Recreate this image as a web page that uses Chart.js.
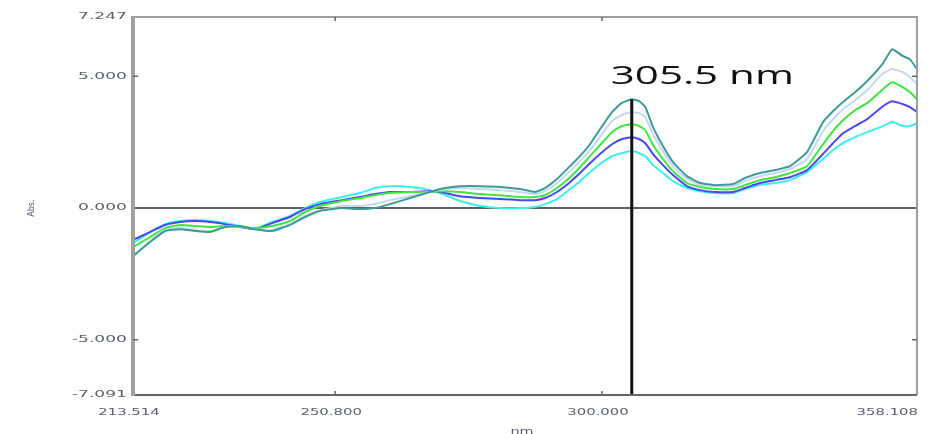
<!DOCTYPE html>
<html>
<head>
<meta charset="utf-8">
<script src="https://cdn.jsdelivr.net/npm/chart.js@4"></script>
<style>
  html, body { margin: 0; padding: 0; background: #fff; }
  #wrap { width: 949px; height: 434px; }
</style>
</head>
<body>
<div id="wrap"><canvas id="chart" width="949" height="434"></canvas></div>
<script>
// UV absorbance overlay, 5 spectra, peak marked at 305.5 nm
var WAVELENGTH = [
  213.514, 216.65, 219.42, 222.18, 224.95, 227.71, 230.48, 233.25, 236.01, 239.15,
  242.47, 245.24, 248.00, 252.06, 255.38, 258.15, 260.91, 264.60, 268.29, 271.06,
  273.82, 277.51, 281.20, 284.89, 287.66, 289.50, 291.71, 294.11, 295.95, 297.80,
  299.64, 301.86, 303.60, 305.50, 306.90, 308.00, 309.42, 311.26, 313.11, 315.69,
  318.09, 320.85, 324.17, 326.38, 329.15, 331.92, 334.68, 337.82, 340.77, 342.61,
  344.46, 346.67, 348.89, 351.84, 353.50, 355.53, 356.82, 358.108
];
var ABS_TEAL = [
  -1.82, -1.29, -0.87, -0.80, -0.87, -0.91, -0.72, -0.68, -0.80, -0.87,
  -0.64, -0.34, -0.11, 0.00, -0.04, 0.00, 0.15, 0.38, 0.61, 0.76,
  0.83, 0.83, 0.80, 0.72, 0.61, 0.76, 1.10, 1.59, 1.97, 2.42,
  2.99, 3.64, 3.98, 4.13, 4.05, 3.83, 3.07, 2.35, 1.74, 1.21,
  0.95, 0.87, 0.91, 1.14, 1.33, 1.44, 1.59, 2.12, 3.26, 3.67,
  4.02, 4.39, 4.81, 5.49, 6.02, 5.76, 5.64, 5.27
];
var ABS_LIGHT = [
  -1.86, -1.25, -0.83, -0.76, -0.83, -0.87, -0.72, -0.68, -0.80, -0.83,
  -0.61, -0.30, -0.08, 0.08, 0.08, 0.15, 0.30, 0.45, 0.61, 0.72,
  0.76, 0.72, 0.68, 0.61, 0.53, 0.64, 0.95, 1.40, 1.78, 2.20,
  2.69, 3.30, 3.52, 3.64, 3.60, 3.45, 2.80, 2.16, 1.59, 1.10,
  0.87, 0.83, 0.83, 1.02, 1.21, 1.33, 1.48, 1.86, 2.92, 3.37,
  3.75, 4.09, 4.47, 5.11, 5.27, 5.15, 4.96, 4.70
];
var ABS_GREEN = [
  -1.48, -1.10, -0.76, -0.64, -0.68, -0.72, -0.68, -0.72, -0.76, -0.68,
  -0.49, -0.15, 0.08, 0.27, 0.38, 0.49, 0.57, 0.61, 0.61, 0.64,
  0.61, 0.53, 0.49, 0.42, 0.42, 0.49, 0.76, 1.17, 1.55, 1.97,
  2.39, 2.88, 3.11, 3.18, 3.11, 2.95, 2.39, 1.86, 1.40, 0.95,
  0.80, 0.72, 0.72, 0.87, 1.06, 1.17, 1.33, 1.59, 2.42, 2.92,
  3.33, 3.71, 3.98, 4.51, 4.77, 4.58, 4.39, 4.13
];
var ABS_BLUE = [
  -1.21, -0.91, -0.64, -0.53, -0.49, -0.53, -0.61, -0.72, -0.80, -0.57,
  -0.34, -0.04, 0.15, 0.30, 0.42, 0.53, 0.61, 0.61, 0.64, 0.57,
  0.45, 0.38, 0.34, 0.30, 0.30, 0.38, 0.61, 0.98, 1.33, 1.70,
  2.05, 2.42, 2.61, 2.69, 2.61, 2.46, 2.05, 1.63, 1.25, 0.83,
  0.68, 0.61, 0.61, 0.76, 0.95, 1.06, 1.17, 1.44, 2.05, 2.46,
  2.84, 3.11, 3.37, 3.86, 4.05, 3.94, 3.83, 3.64
];
var ABS_CYAN = [
  -1.33, -0.91, -0.61, -0.49, -0.45, -0.49, -0.57, -0.68, -0.80, -0.53,
  -0.30, 0.00, 0.23, 0.42, 0.57, 0.76, 0.83, 0.80, 0.68, 0.49,
  0.27, 0.08, 0.00, 0.00, 0.04, 0.15, 0.34, 0.72, 1.02, 1.36,
  1.67, 1.97, 2.08, 2.16, 2.08, 1.97, 1.63, 1.33, 1.02, 0.76,
  0.64, 0.57, 0.57, 0.72, 0.87, 0.95, 1.06, 1.36, 1.86, 2.20,
  2.46, 2.69, 2.88, 3.11, 3.26, 3.11, 3.11, 3.22
];

var X_TICKS = [213.514, 250.8, 300.0, 358.108];
var Y_TICKS = [7.247, 5.0, 0.0, -5.0, -7.091];
var PEAK_NM = 305.5;
var PEAK_TOP = 4.13;
var PEAK_LABEL = "305.5 nm";

var TEAL = "#3d9a96";
var LIGHT = "#c6d9f0";
var GREEN = "#3ee63e";
var BLUE = "#4848ec";
var CYAN = "#3deeee";
var TICK_TEXT = "#5a5f6a";

function points(ys) {
  return ys.map(function (y, i) { return { x: WAVELENGTH[i], y: y }; });
}

// text is horizontally stretched in the original picture
function wideText(ctx, text, x, y, sx, align) {
  ctx.save();
  ctx.translate(x, y);
  ctx.scale(sx, 1);
  ctx.textAlign = align;
  ctx.fillText(text, 0, 0);
  ctx.restore();
}

var spectrumFrame = {
  id: "spectrumFrame",
  beforeDatasetsDraw: function (chart) {
    var ctx = chart.ctx, a = chart.chartArea;
    var y0 = chart.scales.y.getPixelForValue(0);
    ctx.save();
    ctx.strokeStyle = "#2a2a2a";
    ctx.lineWidth = 1.5;
    ctx.beginPath();
    ctx.moveTo(a.left, y0);
    ctx.lineTo(a.right, y0);
    ctx.stroke();
    ctx.restore();
  },
  afterDatasetsDraw: function (chart) {
    var ctx = chart.ctx, a = chart.chartArea;
    var xs = chart.scales.x, ys = chart.scales.y;
    ctx.save();

    // peak marker
    var px = xs.getPixelForValue(PEAK_NM);
    ctx.strokeStyle = "#111";
    ctx.lineWidth = 3;
    ctx.beginPath();
    ctx.moveTo(px, ys.getPixelForValue(PEAK_TOP));
    ctx.lineTo(px, a.bottom);
    ctx.stroke();
    ctx.fillStyle = "#111";
    ctx.font = "26px 'Open Sans'";
    ctx.textBaseline = "alphabetic";
    wideText(ctx, PEAK_LABEL, px - 21, 84, 1.62, "left");

    // frame
    ctx.strokeStyle = "#9d9d9d";
    ctx.lineWidth = 2;
    ctx.beginPath();
    ctx.moveTo(a.left, a.top);
    ctx.lineTo(a.right, a.top);
    ctx.lineTo(a.right, a.bottom);
    ctx.stroke();
    ctx.strokeStyle = "#666";
    ctx.beginPath();
    ctx.moveTo(a.left, a.bottom);
    ctx.lineTo(a.right, a.bottom);
    ctx.stroke();
    ctx.strokeStyle = "#a0a0a0";
    ctx.lineWidth = 4;
    ctx.beginPath();
    ctx.moveTo(a.left, a.top - 1);
    ctx.lineTo(a.left, a.bottom + 1);
    ctx.stroke();

    // small inner tick marks
    ctx.strokeStyle = "#666";
    ctx.lineWidth = 1.5;
    Y_TICKS.slice(1, -1).forEach(function (v) {
      if (v === 0) return;
      var y = ys.getPixelForValue(v);
      ctx.beginPath();
      ctx.moveTo(a.left, y); ctx.lineTo(a.left + 5, y);
      ctx.moveTo(a.right, y); ctx.lineTo(a.right - 5, y);
      ctx.stroke();
    });
    X_TICKS.slice(1, -1).forEach(function (v) {
      var x = xs.getPixelForValue(v);
      ctx.beginPath();
      ctx.moveTo(x, a.bottom); ctx.lineTo(x, a.bottom - 4);
      ctx.moveTo(x, a.top); ctx.lineTo(x, a.top + 4);
      ctx.stroke();
    });

    // tick labels
    ctx.fillStyle = TICK_TEXT;
    ctx.font = "9px 'DejaVu Sans'";
    ctx.textBaseline = "middle";
    Y_TICKS.forEach(function (v) {
      wideText(ctx, v.toFixed(3), a.left - 6, ys.getPixelForValue(v), 1.9, "right");
    });
    X_TICKS.forEach(function (v, i) {
      var last = i === X_TICKS.length - 1;
      var x = last ? a.right + 1 : xs.getPixelForValue(v) - 4;
      wideText(ctx, v.toFixed(3), x, a.bottom + 18, 1.65, last ? "right" : "center");
    });

    // axis titles
    ctx.font = "8px 'DejaVu Sans'";
    ctx.save();
    ctx.translate(32, ys.getPixelForValue(0));
    ctx.rotate(-Math.PI / 2);
    ctx.textAlign = "center";
    ctx.textBaseline = "middle";
    ctx.fillText("Abs.", 0, 0);
    ctx.restore();
    ctx.font = "9px 'DejaVu Sans'";
    ctx.textBaseline = "top";
    wideText(ctx, "nm", (a.left + a.right) / 2 - 3, 427, 1.6, "center");

    ctx.restore();
  }
};

function series(data, color) {
  return {
    data: points(data),
    borderColor: color,
    backgroundColor: color,
    borderWidth: 2,
    pointRadius: 0,
    tension: 0.15,
    fill: false
  };
}

new Chart(document.getElementById("chart"), {
  type: "line",
  data: {
    datasets: [
      series(ABS_TEAL, TEAL),
      series(ABS_LIGHT, LIGHT),
      series(ABS_GREEN, GREEN),
      series(ABS_BLUE, BLUE),
      series(ABS_CYAN, CYAN)
    ]
  },
  options: {
    responsive: false,
    animation: false,
    layout: { padding: { left: 0, top: 17, right: 32, bottom: 0 } },
    plugins: { legend: { display: false }, tooltip: { enabled: false } },
    scales: {
      x: {
        type: "linear",
        min: X_TICKS[0],
        max: X_TICKS[X_TICKS.length - 1],
        grid: { display: false },
        border: { display: false },
        ticks: { display: false },
        afterFit: function (s) { s.height = 39; }
      },
      y: {
        min: Y_TICKS[Y_TICKS.length - 1],
        max: Y_TICKS[0],
        grid: { display: false },
        border: { display: false },
        ticks: { display: false },
        afterFit: function (s) { s.width = 133; }
      }
    }
  },
  plugins: [spectrumFrame]
});
</script>
</body>
</html>
